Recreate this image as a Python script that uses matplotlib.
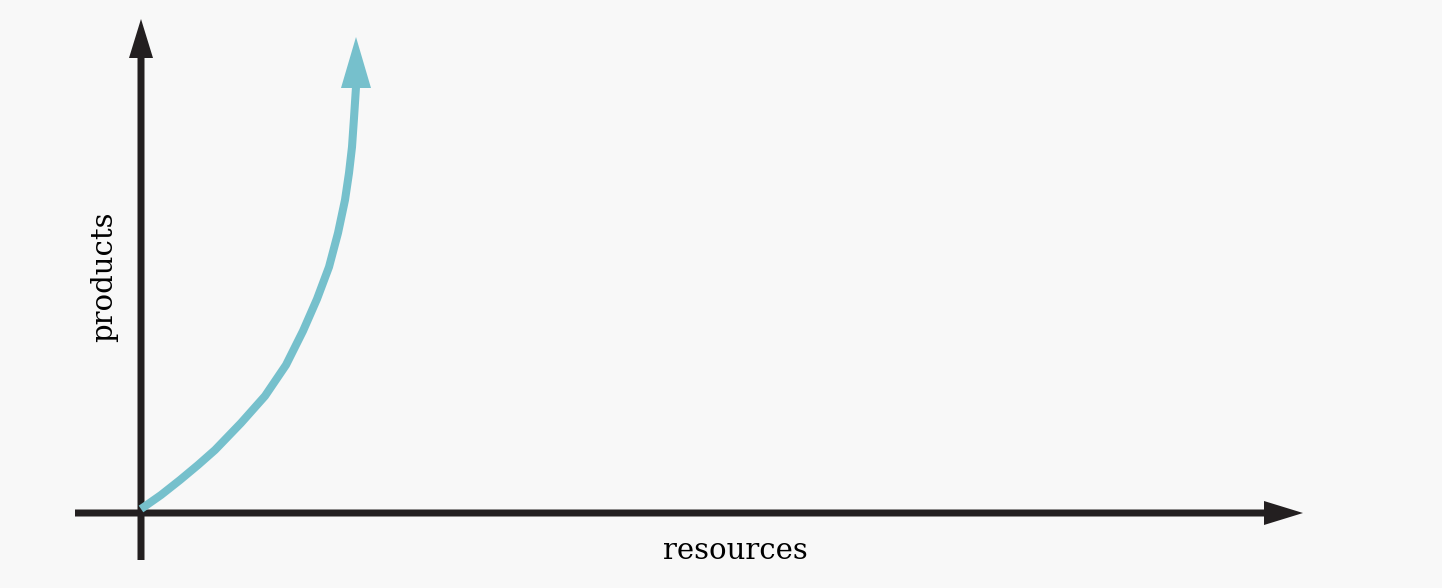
import matplotlib
matplotlib.use("Agg")
import matplotlib.pyplot as plt

# Curve (resources -> products)
resources = [0, 20, 39, 57, 74, 100, 124, 145, 162, 176, 188, 197, 204, 208, 211, 213, 215]
products = [4, 18, 33, 48, 63, 90, 117, 148, 182, 214, 246, 280, 313, 340, 366, 395, 426]
arrow_tip_products = 476

x_label = "resources"
y_label = "products"

BG = "#f8f8f8"
AXIS_C = "#231f20"
CURVE_C = "#76c0cc"

fig = plt.figure(figsize=(14.42, 5.88), dpi=100, facecolor=BG)
ax = fig.add_axes([0, 0, 1, 1])
ax.set_facecolor(BG)
ax.set_xlim(-141, 1301)
ax.set_ylim(-75, 513)
ax.axis("off")

# axes with arrows
ax.arrow(-66, 0, 1162 + 66, 0, width=7, head_width=24, head_length=39,
         length_includes_head=True, color=AXIS_C, lw=0, zorder=2)
ax.arrow(0, -47, 0, 494 + 47, width=7, head_width=24, head_length=39,
         length_includes_head=True, color=AXIS_C, lw=0, zorder=2)

# curve
ax.plot(resources, products, color=CURVE_C, lw=5.8, solid_capstyle="butt",
        solid_joinstyle="round", zorder=3)
ax.arrow(resources[-1], products[-1] - 1, 0, arrow_tip_products - products[-1] + 1,
         width=0.1, head_width=30, head_length=51, length_includes_head=True,
         color=CURVE_C, lw=0, zorder=3)

ax.text(594, -38, x_label, ha="center", va="center", fontsize=21,
        family="DejaVu Serif", color="#000000")
ax.text(-37, 236, y_label, ha="center", va="center", fontsize=21, rotation=90,
        family="DejaVu Serif", color="#000000")

fig.savefig("out.png", dpi=100, facecolor=BG)
